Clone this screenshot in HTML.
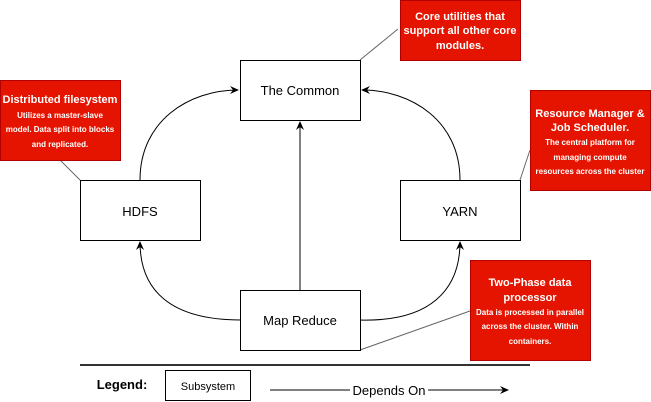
<!DOCTYPE html>
<html><head><style>
body{margin:0;background:#fff;}
svg{display:block;font-family:"Liberation Sans",sans-serif;}
</style></head><body>
<svg width="651" height="402" viewBox="0 0 651 402">
<defs><marker id="a" markerWidth="10" markerHeight="10" refX="8" refY="5" orient="auto" markerUnits="userSpaceOnUse"><path d="M0,1 L9,5 L0,9 L3,5 Z" fill="#000"/></marker></defs>
<g fill="none" stroke="#000" stroke-width="1">
<path d="M140,180 C140,120 190,90 238,90" marker-end="url(#a)"/>
<path d="M460,180 C460,120 410,90 362,90" marker-end="url(#a)"/>
<path d="M300,290 L300,122" marker-end="url(#a)"/>
<path d="M241,320 C170,320 140,290 140,242" marker-end="url(#a)"/>
<path d="M360,320 C430,322 460,290 460,242" marker-end="url(#a)"/>
<path d="M270,390 L508,390" marker-end="url(#a)"/>
</g>
<g stroke="#666" stroke-width="1">
<line x1="360" y1="60" x2="398" y2="29"/>
<line x1="60" y1="160" x2="80" y2="180"/>
<line x1="520" y1="180" x2="530" y2="150"/>
<line x1="360" y1="350" x2="470" y2="311"/>
</g>
<g fill="#fff" stroke="#000">
<rect x="240.5" y="60.5" width="120" height="60"/>
<rect x="80.5" y="180.5" width="120" height="60"/>
<rect x="400.5" y="180.5" width="120" height="60"/>
<rect x="240.5" y="290.5" width="120" height="60"/>
<rect x="165.5" y="370.5" width="85" height="30"/>
</g>
<g font-size="13" text-anchor="middle" fill="#000">
<text x="300" y="95">The Common</text>
<text x="140" y="216">HDFS</text>
<text x="460" y="216">YARN</text>
<text x="300" y="325">Map Reduce</text>
<text x="208" y="390" font-size="11">Subsystem</text>
<rect x="350" y="382" width="78" height="14" fill="#fff"/>
<text x="389" y="395">Depends On</text>
<text x="122" y="389" font-weight="bold">Legend:</text>
</g>
<line x1="80" y1="365" x2="530" y2="365" stroke="#333" stroke-width="2"/>
<g fill="#e51400" stroke="#b20000">
<rect x="400.5" y="0.5" width="120" height="60"/>
<rect x="0.5" y="80.5" width="120" height="80"/>
<rect x="530.5" y="90.5" width="120" height="100"/>
<rect x="470.5" y="260.5" width="120" height="100"/>
</g>
<g fill="#fff" text-anchor="middle" font-weight="bold">
<text font-size="11" x="460" y="20">Core utilities that</text>
<text font-size="11" x="460" y="34">support all other core</text>
<text font-size="11" x="460" y="49">modules.</text>
<text font-size="11" x="60" y="103">Distributed filesystem</text>
<text font-size="8" x="60" y="118">Utilizes a master-slave</text>
<text font-size="8" x="60" y="132">model. Data split into blocks</text>
<text font-size="8" x="60" y="147">and replicated.</text>
<text font-size="11" x="590" y="117">Resource Manager &amp;</text>
<text font-size="11" x="590" y="131">Job Scheduler.</text>
<text font-size="8" x="590" y="145">The central platform for</text>
<text font-size="8" x="590" y="160">managing compute</text>
<text font-size="8" x="590" y="174">resources across the cluster</text>
<text font-size="11" x="530" y="286">Two-Phase data</text>
<text font-size="11" x="530" y="301">processor</text>
<text font-size="8" x="530" y="315">Data is processed in parallel</text>
<text font-size="8" x="530" y="329">across the cluster. Within</text>
<text font-size="8" x="530" y="344">containers.</text>
</g>
</svg>
</body></html>
